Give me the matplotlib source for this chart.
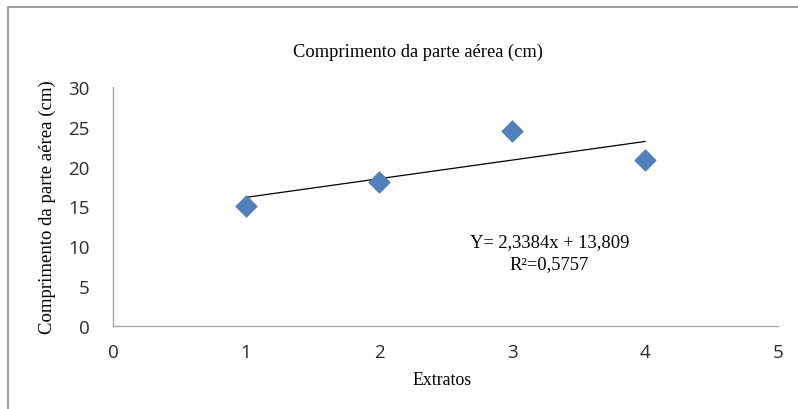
import matplotlib
matplotlib.use("Agg")
import matplotlib.pyplot as plt
import numpy as np
from matplotlib.patches import Rectangle

extratos = [1, 2, 3, 4]
comprimento = [15.1, 18.1, 24.5, 20.8]
slope, intercept = 2.3384, 13.809
x_ticks = [0, 1, 2, 3, 4, 5]
y_ticks = [0, 5, 10, 15, 20, 25, 30]

W, H = 798, 410
fig = plt.figure(figsize=(W/100, H/100), dpi=100)
ax = fig.add_axes([113/W, 1-327/H, (778-113)/W, (327-88)/H])

serif = "Liberation Serif"
sans = "Open Sans"

ax.scatter(extratos, comprimento, marker="D", s=120, color="#4F81BD",
           edgecolor="#4A7AB5", linewidth=0.5, zorder=3)
xt = np.array([extratos[0], extratos[-1]])
ax.plot(xt, slope*xt + intercept, color="black", lw=0.9, zorder=2)

ax.set_xlim(0, 5)
ax.set_ylim(0, 30)
ax.set_xticks(x_ticks)
ax.set_yticks(y_ticks)
ax.tick_params(length=0, labelsize=13.5, colors="#2b2b2b")
for lab in ax.get_xticklabels() + ax.get_yticklabels():
    lab.set_family(sans)
ax.tick_params(axis="y", pad=17)
ax.tick_params(axis="x", pad=12)
for s in ["top", "right"]:
    ax.spines[s].set_visible(False)
for s in ["left", "bottom"]:
    ax.spines[s].set_color("#A6A6A6")
    ax.spines[s].set_linewidth(1.0)

fig.text(418/W, 1-52/H, "Comprimento da parte aérea (cm)", family=serif,
         fontsize=13.3, ha="center", va="center")
fig.text(47/W, 1-207/H, "Comprimento da parte aérea (cm)", family=serif,
         fontsize=13.5, ha="center", va="center", rotation=90)
fig.text(442/W, 1-381/H, "Extratos", family=serif,
         fontsize=12.8, ha="center", va="center")
ax.text(3.28, 9.2, "Y= 2,3384x + 13,809\nR²=0,5757", family=serif,
        fontsize=13.3, ha="center", va="center", linespacing=1.35)

fig.patches.append(Rectangle((8/W, -0.1), 1.1, 1 - 8/H + 0.1, transform=fig.transFigure,
                             fill=False, edgecolor="#A0A0A0", lw=1.5))

fig.savefig("out.png", dpi=100)
